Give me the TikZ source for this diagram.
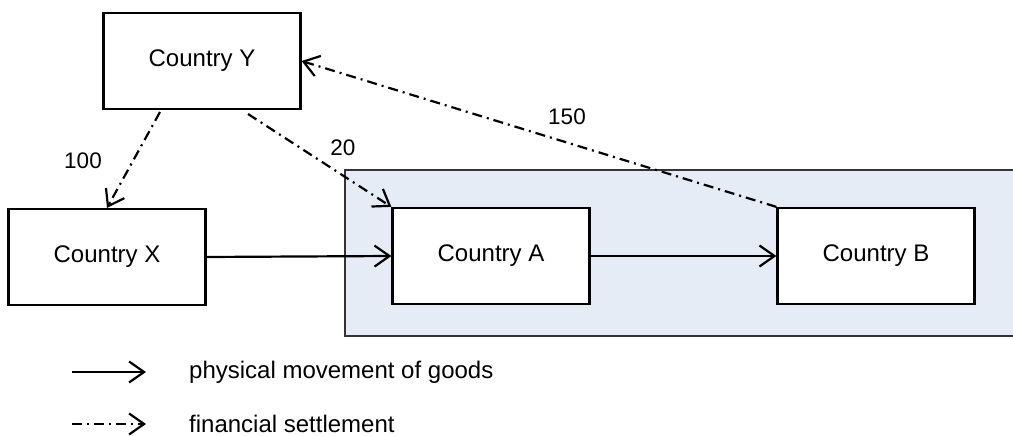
\documentclass[tikz,border=0pt]{standalone}
\usepackage{fontspec}
\setmainfont{Liberation Sans}
\usetikzlibrary{arrows.meta}
\definecolor{zonefill}{HTML}{E6ECF5}
\definecolor{zoneline}{HTML}{333333}
\begin{document}
\begin{tikzpicture}[x=1pt,y=-1pt,
  country/.style={draw=black,line width=2.2pt,fill=white,minimum width=197pt,minimum height=96pt,inner sep=0pt,font=\fontsize{24}{28}\selectfont},
  goods/.style={line width=2.2pt,-{Straight Barb[length=15pt,width=21pt,line width=2.2pt]}},
  money/.style={line width=2.2pt,dash pattern=on 10pt off 5pt on 2pt off 5pt,-{Straight Barb[length=15pt,width=21pt,line width=2.2pt]}},
  lbl/.style={font=\fontsize{22.5}{26}\selectfont,inner sep=0pt},
  legtxt/.style={font=\fontsize{24}{28}\selectfont,inner sep=0pt,anchor=west}]
\useasboundingbox (0,0) rectangle (1013,436);
\fill[white] (0,0) rectangle (1013,436);
\draw[zoneline,fill=zonefill,line width=2.2pt] (345,170) rectangle (1025,336);
\node[country] (Y) at (202,61) {Country Y};
\node[country] (X) at (107,257) {Country X};
\node[country] (A) at (491,256) {Country A};
\node[country] (B) at (876,256) {Country B};
\coordinate (ys1) at (160,112);
\coordinate (ys2) at (248,114);
\draw[money] (ys1) -- (X.north);
\draw[money] (ys2) -- (A.north west);
\draw[money] (B.north west) -- (Y.east);
\draw[goods] (X.east) -- (A.west);
\draw[goods] (A.east) -- (B.west);
\node[lbl] (l100) at (83,161) {100};
\node[lbl] (l20) at (343,148) {20};
\node[lbl] (l150) at (567,117) {150};
\coordinate (g1) at (72,372);
\coordinate (g2) at (146,372);
\coordinate (f1) at (72,424);
\coordinate (f2) at (146,424);
\draw[goods] (g1) -- (g2);
\draw[money] (f1) -- (f2);
\node[legtxt] (tg) at (189,372) {physical movement of goods};
\node[legtxt] (tf) at (189,424) {financial settlement};
\end{tikzpicture}
\end{document}
